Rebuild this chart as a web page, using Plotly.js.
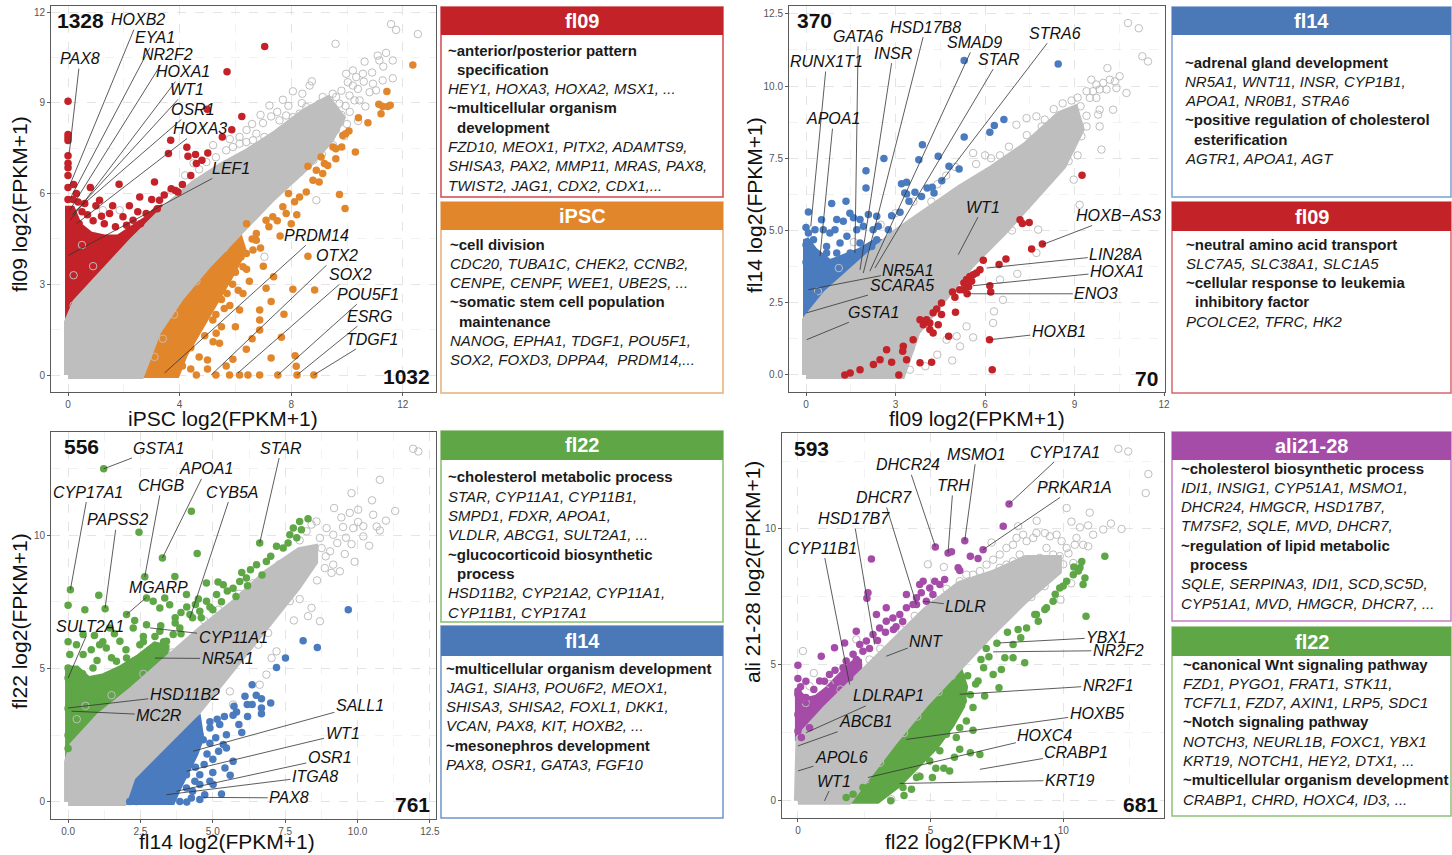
<!DOCTYPE html>
<html><head><meta charset="utf-8">
<script src="https://cdn.plot.ly/plotly-3.0.1.min.js"></script>
<style>html,body{margin:0;padding:0;background:#fff}#chart{width:1452px;height:855px}</style>
</head><body><div id="chart"></div>
<script>
// ================= DATA =================
// Panel 1: x = iPSC, y = fl09
const p1GrayCore = [[0,0],[0,1.75],[0.3,2.4],[1.1,3.2],[2.3,4.4],[3.5,5.5],[4.5,6.3],[5.5,6.9],[6.5,7.4],[7.5,8.0],[8.5,8.7],[9.3,9.1],[9.8,8.5],[9.4,7.8],[8.6,6.95],[7.3,5.85],[6.1,4.75],[5.0,3.65],[4.0,2.55],[3.2,1.45],[2.6,0]];
const p1RedDense = [[0,1.7],[0,5.5],[0.15,5.5],[0.4,4.95],[0.8,4.65],[1.3,4.55],[1.8,4.55],[2.3,4.85],[2.8,5.15],[3.2,5.5],[3.4,5.55],[2.3,4.35],[1.1,3.15],[0.3,2.35]];
const p1OrangeDense = [[2.65,0],[3.9,0],[4.2,0.7],[4.8,1.7],[5.4,2.6],[5.9,3.4],[6.3,4.1],[6.1,4.7],[5.0,3.6],[4.0,2.5],[3.2,1.4]];
const p1GrayOpen = [[11.58,11.6],[11.76,11.41],[12.54,11.27],[9.59,10.95],[11.1,10.56],[11.4,10.65],[11.64,10.4],[11.16,10.4],[10.63,10.36],[11.64,9.81],[11.28,9.74],[10.93,9.63],[11.04,9.41],[10.81,9.35],[10.66,8.88],[10.21,10.07],[10.33,9.85],[10.57,9.96],[9.97,9.96],[10.03,9.68],[10.21,9.57],[10.39,9.46],[10.09,9.24],[10.27,9.08],[10.45,9.08],[9.49,9.3],[9.61,9.19],[9.37,9.08],[9.73,8.97],[9.55,8.75],[9.31,8.86],[9.13,9.19],[9.01,8.97],[8.74,9.71],[8.66,9.57],[8.06,9.38],[8.38,8.99],[8.54,8.86],[8.3,8.64],[8.06,8.53],[7.82,8.58],[7.58,8.42],[7.28,8.55],[7.22,8.91],[6.99,8.33],[7.04,7.87],[6.75,7.98],[6.63,7.76],[6.39,7.7],[6.15,7.65],[5.91,7.54],[5.67,7.43],[6.15,7.87],[8.9,5.78],[7.04,3.91],[4.96,7.04],[1.25,5.45],[1.85,5.45],[9.8,8.6],[9.95,8.9],[9.2,8.5],[8.9,8.3],[9.6,8.1],[9.75,8.35],[10.1,8.7],[8.7,8.0],[9.0,8.0],[8.2,7.6],[5.3,7.2],[4.7,6.8],[4.2,6.6],[3.7,6.1],[7.9,8.9],[7.5,8.7],[6.9,8.6],[6.4,8.1],[5.8,7.8],[10.0,8.3],[9.9,7.9],[9.5,7.6],[9.1,7.3],[8.8,7.1],[8.3,6.7],[7.8,6.3],[7.3,6.0],[6.7,5.3],[6.2,4.9],[5.6,4.2],[5.1,3.9],[4.6,3.1],[4.2,2.8],[3.8,2.0],[3.4,1.2],[3.1,0.6],[0.2,2.3],[0.2,3.3],[0.5,4.3],[0.9,3.6],[10.6,9.7],[10.9,10.0],[11.3,10.2],[9.8,9.4],[8.4,9.3],[7.7,9.1],[6.6,8.3],[5.2,7.6],[4.5,7.0],[10.4,8.4]];
const p1Red = [[0,9.05],[0,7.95],[0,7.85],[0,7.75],[0,7.25],[0,7.0],[0,6.85],[0.2,6.3],[0,6.2],[0.8,6.2],[0.18,5.8],[0.36,5.72],[0.6,5.67],[7.05,10.86],[5.7,10.03],[4.99,8.79],[6.23,8.55],[5.87,8.11],[5.53,7.87],[3.68,7.76],[4.26,7.53],[5.01,7.34],[3.6,7.32],[4.3,7.23],[4.57,7.29],[4.6,6.99],[3.1,6.38],[1.83,6.31],[3.7,6.16],[3.85,6.1],[2.57,5.89],[1.13,5.78],[1.49,5.34],[1.97,5.23],[2.33,5.12],[2.8,5.34],[3.28,5.78],[3.94,6.05],[1.0,5.6],[0.5,5.4],[0.9,5.1],[1.3,5.0],[1.7,4.9],[2.1,4.95],[2.6,5.0],[3.2,5.5],[0.4,5.0],[4.1,6.3],[4.4,6.6],[2.2,5.6],[1.6,5.6],[0.3,6.0],[0,5.8],[0,6.6],[4.8,7.1],[3.45,5.95],[0.7,5.3],[1.2,5.25],[2.5,5.4],[3.0,5.8]];
const p1Orange = [[12.36,10.25],[11.43,9.37],[11.14,8.95],[11.28,8.88],[11.46,8.88],[11.55,8.92],[11.22,8.64],[10.41,8.51],[10.75,8.34],[10.07,8.07],[9.95,7.98],[9.85,7.92],[9.81,7.54],[10.3,7.37],[9.5,7.54],[9.6,7.48],[9.07,7.21],[9.19,6.99],[9.31,6.93],[8.9,6.77],[9.13,6.66],[8.78,6.44],[9.0,6.38],[8.54,6.05],[8.3,5.89],[8.12,5.73],[9.73,5.97],[9.93,5.51],[7.7,5.56],[7.82,5.34],[7.34,5.23],[7.1,5.12],[6.75,4.68],[6.75,4.46],[6.63,4.13],[8.6,3.93],[6.39,4.02],[6.27,3.58],[7.37,3.25],[8.06,2.84],[8.84,2.81],[7.1,2.87],[7.28,2.43],[7.74,2.01],[6.87,2.15],[6.27,2.7],[6.15,2.15],[7.65,1.25],[6.87,1.82],[6.87,1.49],[7.28,0.56],[8.14,0.64],[8.18,0.29],[7.52,0],[8.21,0],[8.81,0],[6.87,0],[6.45,0],[6.15,0],[5.79,0],[5.67,0.3],[5.91,0.52],[6.39,0.85],[5.31,1.38],[5.43,1.05],[5.19,1.82],[4.96,2.26],[5.5,2.5],[5.9,3.0],[6.0,3.4],[7.0,3.6],[7.6,4.6],[8.0,5.0],[8.2,5.3],[5.3,0.0],[5.0,0.2],[6.6,1.2],[6.0,1.6],[5.8,2.3],[6.5,3.1],[7.9,6.0],[8.6,6.9],[9.6,7.15],[6.4,5.0],[4.4,0.2],[4.7,0.6],[4.9,1.3],[5.2,1.1],[5.5,1.6],[4.6,0.0],[5.0,0.5],[5.6,2.2],[6.1,2.8],[6.4,3.5],[6.9,4.2],[4.4,0.9],[4.1,0.3],[5.3,2.0],[5.7,2.7],[6.2,3.9],[6.6,4.5],[7.2,4.9],[7.5,5.1]];
const p1LabNames = ['PAX8','HOXB2','EYA1','NR2F2','HOXA1','WT1','OSR1','HOXA3','LEF1','PRDM14','OTX2','SOX2','POU5F1','ESRG','TDGF1'];
const p1LabX = [0.43,2.51,3.12,3.55,4.12,4.27,4.48,4.73,5.84,8.92,9.64,10.14,10.75,10.82,10.9];
const p1LabY = [10.46,11.75,11.15,10.59,10.03,9.44,8.78,8.15,6.83,4.62,3.96,3.33,2.67,1.95,1.19];
const p1PtX = [0.04,0.06,0.08,0.06,0.08,0.15,0.24,0.3,0.0,3.46,5.13,6.09,7.52,8.21,8.81];
const p1PtY = [7.3,6.27,5.84,5.45,5.12,5.29,5.4,5.0,3.95,0.07,0,0.07,0,0,0];

// Panel 2: x = fl09, y = fl14
const p2GrayCore = [[0,0],[0,1.9],[0.7,2.8],[1.8,3.85],[2.92,4.85],[4.04,5.65],[5.16,6.45],[6.27,7.15],[7.39,7.95],[8.5,9.0],[9.0,9.2],[9.2,8.5],[8.6,7.25],[7.6,6.1],[6.6,4.95],[5.5,3.8],[4.6,2.65],[3.7,1.5],[3.2,0]];
const p2BlueDense = [[0,1.9],[0,4.7],[0.3,4.3],[0.8,3.9],[1.3,4.1],[1.8,4.3],[2.3,4.6],[2.6,4.6],[1.8,3.85],[0.7,2.8]];
const p2GrayOpen = [[10.79,12.18],[11.15,12.0],[11.27,11.03],[11.46,10.85],[10.1,10.62],[9.56,10.22],[9.73,10.05],[9.96,10.11],[10.18,10.22],[10.35,10.16],[10.4,9.93],[10.07,9.88],[9.84,9.88],[9.62,9.82],[9.4,9.82],[9.51,9.59],[9.73,9.59],[10.51,10.34],[10.74,9.76],[10.29,9.18],[9.84,9.18],[9.84,8.6],[9.23,8.26],[9.9,7.8],[9.79,9.01],[9.4,8.97],[8.97,6.76],[9.17,5.89],[7.78,5.03],[7.72,4.22],[7.08,3.5],[6.5,3.3],[6.27,1.8],[5.38,1.68],[5.16,0.99],[4.71,1.22],[5.05,1.34],[3.48,0.18],[5.6,7.68],[7.05,8.66],[7.39,8.89],[7.72,8.95],[8.0,8.84],[8.3,9.2],[8.6,9.4],[8.9,9.5],[9.1,9.6],[9.2,9.3],[9.0,9.0],[8.8,8.7],[8.6,8.3],[8.3,8.0],[9.4,8.6],[8.9,7.9],[8.5,7.5],[8.8,7.4],[6.8,7.9],[6.5,7.6],[6.0,7.6],[5.0,7.2],[4.4,6.6],[4.2,6.0],[3.0,5.6],[7.9,6.5],[8.2,6.9],[6.9,5.0],[7.2,6.1],[5.8,4.2],[6.3,2.2],[4.9,0.5],[4.0,0.3],[4.4,0.7],[5.6,1.3],[6.6,2.6],[5.7,7.3],[6.2,7.5],[4.7,6.9],[3.6,6.0],[2.5,5.2],[1.6,4.6],[7.4,8.3],[7.9,8.6],[8.2,8.4],[8.9,8.2],[9.1,7.6],[8.3,7.3],[7.9,6.9],[7.5,6.6],[7.1,5.6],[6.5,5.3],[6.1,4.6],[5.6,4.4],[5.2,3.4],[4.8,3.1],[4.3,2.7],[3.9,2.3],[3.5,0.9],[1.1,3.7],[0.4,2.9]];
const p2Blue = [[5.3,10.88],[8.45,10.76],[6.63,8.84],[6.31,8.63],[6.16,8.4],[5.3,8.24],[3.9,7.97],[2.61,7.49],[3.78,7.45],[4.43,7.57],[4.79,7.22],[5.13,7.13],[4.55,6.72],[2.01,7.07],[2.01,6.47],[1.34,6.01],[0.86,5.93],[0.08,5.64],[3.2,6.62],[3.37,6.67],[3.31,6.3],[3.37,6.26],[3.65,6.32],[3.87,6.18],[4.06,6.47],[4.23,6.5],[4.29,6.3],[3.45,6.01],[3.15,5.63],[2.76,5.03],[2.87,5.51],[2.37,5.49],[2.09,5.55],[1.81,5.38],[1.59,5.44],[1.47,5.6],[1.25,5.32],[1.03,5.38],[0.8,4.91],[0.52,5.37],[0.58,5.03],[0.3,5.03],[0.08,4.91],[0.25,4.68],[0.69,4.45],[1.14,4.57],[1.37,4.8],[0.97,5.03],[0.08,4.22],[0.14,3.76],[0.08,3.3],[0.14,2.95],[0.25,2.72],[0.3,4.0],[0.69,4.22],[1.03,4.22],[1.48,4.22],[1.81,4.57],[2.2,4.45],[2.37,4.68],[1.7,5.03],[1.92,5.15],[2.42,5.15],[2.25,5.03],[0.0,5.1],[0.0,4.5],[0.0,3.9],[0.45,3.6],[0.9,3.9]];
const p2Red = [[9.25,6.91],[7.17,5.37],[7.25,5.24],[7.48,5.28],[7.92,4.53],[7.56,4.36],[6.7,4.01],[6.47,3.82],[5.94,3.97],[5.83,3.64],[5.71,3.53],[5.6,3.47],[5.49,3.41],[5.38,3.3],[5.29,3.18],[5.55,3.24],[5.27,2.95],[5.45,3.05],[6.16,3.09],[6.19,2.87],[5.4,2.81],[5.15,2.95],[4.91,2.87],[4.99,2.69],[4.54,2.49],[4.38,2.28],[5.01,2.17],[4.54,2.09],[4.26,2.15],[4.04,1.91],[4.15,1.8],[3.82,1.91],[3.93,1.74],[4.43,1.74],[4.15,1.57],[4.26,1.45],[4.78,1.34],[6.15,1.22],[3.59,1.22],[3.26,0.99],[3.24,0.82],[3.37,0.53],[2.87,0.44],[3.82,0.42],[4.21,0.44],[3.11,0],[6.24,0.18],[2.7,0.87],[2.48,0.53],[2.26,0.36],[1.81,0.18],[1.48,0.07],[1.3,0.0]];
const p2LabNames = ['RUNX1T1','GATA6','HSD17B8','INSR','SMAD9','STAR','STRA6','APOA1','WT1','HOXB\u2212AS3','LIN28A','HOXA1','ENO3','HOXB1','NR5A1','SCARA5','GSTA1'];
const p2LabX = [0.69,1.75,4.01,2.92,5.66,6.47,8.34,0.92,5.94,10.46,10.38,10.42,9.73,8.47,3.43,3.2,2.25];
const p2LabY = [10.85,11.72,12.04,11.14,11.51,10.93,11.83,8.87,5.81,5.52,4.16,3.59,2.81,1.49,3.62,3.1,2.17];
const p2PtX = [0.16,1.64,1.92,1.81,2.14,2.31,4.54,0.47,5.1,7.92,6.05,5.6,5.44,6.16,0.08,0.02,0.02];
const p2PtY = [5.14,4.22,3.53,3.64,3.59,3.7,6.7,4.11,4.16,4.51,3.7,3.09,2.81,1.22,2.95,2.15,1.22];

// Panel 3: x = fl14, y = fl22
const p3GrayCore = [[0,0],[0,1.5],[0.17,2.1],[1.1,3.2],[2.25,4.2],[3.4,5.3],[4.55,6.4],[5.7,7.4],[6.85,8.55],[8.0,9.4],[8.5,9.5],[8.5,9.0],[7.9,8.05],[6.8,6.55],[5.65,5.05],[4.5,3.45],[3.35,2.2],[2.2,0.95],[1.9,0]];
const p3GreenDense = [[0,1.5],[0,5.0],[0.3,5.0],[0.7,4.6],[1.2,4.7],[1.8,5.0],[2.4,5.4],[3.0,5.9],[3.4,5.8],[3.4,5.3],[2.25,4.2],[1.1,3.2],[0.17,2.1]];
const p3BlueDense = [[2.0,0],[3.6,0],[3.8,0.5],[4.1,1.1],[4.4,1.8],[4.6,2.4],[4.5,3.1],[3.35,2.1],[2.2,0.85]];
const p3GrayOpen = [[11.92,13.23],[12.1,13.13],[10.77,12.07],[9.79,11.57],[9.19,11.01],[10.02,10.95],[9.73,10.83],[9.44,10.66],[10.54,10.76],[10.98,10.54],[10.66,10.32],[10.77,10.17],[10.02,10.49],[10.2,10.33],[9.85,10.26],[10.2,9.95],[9.79,9.66],[9.56,9.29],[9.16,10.01],[8.93,10.26],[8.7,9.89],[8.58,10.51],[8.24,10.14],[8.41,10.39],[8.76,9.51],[9.05,9.39],[9.16,8.89],[8.87,8.76],[9.39,8.64],[9.1,8.58],[8.41,7.27],[8.29,6.96],[8.7,6.77],[7.66,7.52],[7.66,8.14],[7.49,7.77],[6.97,7.02],[6.91,6.33],[7.2,5.64],[7.03,5.39],[6.85,4.77],[6.62,4.39],[5.59,4.14],[5.7,3.65],[6.57,5.89],[7.8,8.6],[8.1,9.0],[8.3,9.3],[7.4,8.5],[7.0,8.3],[6.6,7.8],[6.2,7.0],[5.8,6.2],[4.8,4.8],[9.9,9.0],[9.6,9.9],[9.3,9.7],[8.9,9.2],[8.6,8.3],[8.0,7.6],[7.8,6.8],[4.0,5.8],[3.6,5.6],[2.6,4.8],[1.5,4.0],[0.3,3.1],[0.6,3.6],[7.3,8.9],[6.4,8.2],[5.9,7.8],[5.2,7.2],[4.7,6.8],[8.2,8.6],[7.3,7.3],[6.6,6.5],[6.1,5.8],[5.3,5.0],[4.9,4.2],[4.2,3.6],[3.8,2.9],[3.0,2.1],[2.5,1.4],[10.5,11.3],[11.3,10.9],[9.5,10.3],[10.4,9.6],[8.0,9.8]];
const p3Green = [[1.23,12.48],[4.26,10.89],[2.45,10.1],[4.46,9.31],[3.26,9.14],[2.65,8.44],[3.69,8.45],[0.08,7.95],[0,7.37],[0.58,7.2],[1.06,7.74],[1.28,7.24],[2.02,7.02],[0.91,6.24],[0.06,5.52],[0,5.02],[0,4.64],[0.29,5.89],[0.52,5.52],[0.86,5.02],[1.32,5.77],[1.79,6.02],[2.25,6.52],[2.71,6.64],[3.17,6.39],[3.63,6.27],[3.86,6.52],[4.21,7.02],[4.55,7.14],[4.78,7.52],[5.13,7.77],[5.36,8.14],[5.7,8.01],[5.93,8.26],[6.16,8.39],[6.51,8.89],[6.62,9.7],[6.85,9.01],[7.2,9.58],[7.43,9.51],[7.66,10.01],[7.78,10.26],[8.06,10.2],[8.29,10.61],[8.0,10.51],[4.78,8.2],[5.18,8.24],[3.34,7.64],[3.51,7.39],[3.17,7.27],[2.71,7.64],[2.94,7.52],[4.09,7.77],[1.44,6.52],[1.09,5.89],[1.67,5.27],[2.02,5.39],[2.48,5.89],[2.94,5.77],[3.4,6.02],[0.52,6.27],[0.75,4.02],[1.09,4.27],[1.44,4.64],[1.79,4.52],[0.4,3.4],[0.23,2.77],[6.0,8.6],[6.3,8.7],[5.5,7.9],[4.9,7.3],[7.0,9.2],[7.6,9.7],[7.9,9.9],[3.9,7.1],[4.4,7.4],[2.6,6.0],[3.0,6.2],[0.0,6.0],[0.0,3.5],[0.0,2.5],[0.0,2.0],[1.0,5.3],[1.5,5.4],[2.0,5.7],[2.6,6.2],[3.2,6.6],[3.7,6.9],[4.1,7.3],[4.5,7.6],[0.8,5.7],[1.2,6.0],[1.6,6.3],[2.3,6.8],[3.7,6.7],[4.3,6.9],[3.9,6.3],[4.6,6.9],[5.0,7.2],[5.3,7.5],[5.8,7.7],[6.2,8.1],[6.7,8.5],[0.5,4.8],[0.9,4.5],[1.9,4.9],[2.3,5.3],[2.8,5.6],[3.3,6.0],[0.3,4.3],[0.6,3.9]];
const p3Blue = [[9.68,7.2],[8.12,6.04],[8.61,5.79],[7.51,5.39],[7.2,5.04],[6.36,4.39],[6.11,3.96],[6.19,3.65],[6.36,3.65],[6.68,3.87],[6.68,3.52],[6.68,3.3],[7.0,3.71],[5.73,3.58],[5.82,3.37],[5.7,3.25],[5.24,2.9],[5.15,3.1],[4.9,2.77],[4.55,2.52],[4.67,2.33],[4.32,2.27],[5.47,2.52],[5.36,2.15],[5.47,2.02],[5.7,1.52],[5.42,1.27],[4.9,0.77],[5.01,0.65],[4.55,1.02],[4.09,1.02],[3.86,1.27],[3.63,0.77],[3.4,0.65],[3.05,0.52],[2.82,0.4],[2.59,0.27],[2.48,0.15],[2.13,0.02],[2.36,0.02],[4.72,0.27],[4.55,0.09],[4.26,0.15],[3.86,0.02],[3.46,0.52],[3.17,0.27],[4.09,0.52],[4.38,0.77],[4.55,0.65],[5.2,1.9],[5.0,1.6],[4.9,2.2],[5.9,2.9],[6.0,2.6],[4.0,1.6],[3.7,1.3],[4.7,1.4],[5.0,1.1],[4.8,1.8],[5.1,2.4],[4.9,3.0],[5.4,3.2],[4.3,0.4],[4.1,0.0],[4.4,1.3],[5.3,0.3],[5.6,1.0],[6.2,3.2],[6.5,4.0]];
const p3LabNames = ['GSTA1','STAR','APOA1','CHGB','CYB5A','CYP17A1','PAPSS2','MGARP','SULT2A1','CYP11A1','NR5A1','HSD11B2','MC2R','SALL1','WT1','OSR1','ITGA8','PAX8'];
const p3LabX = [3.11,7.37,4.78,3.23,5.65,0.69,1.69,3.11,0.77,5.7,5.51,4.03,3.15,10.08,9.48,9.04,8.53,7.64];
const p3LabY = [13.26,13.26,12.48,11.86,11.61,11.61,10.57,8.04,6.58,6.17,5.37,4.02,3.25,3.62,2.55,1.65,0.96,0.15];
const p3PtX = [1.23,6.62,3.26,2.65,4.21,0.08,1.28,2.02,0,2.82,3.0,0.0,0.12,4.32,4.09,3.74,3.4,4.67];
const p3PtY = [12.48,9.7,9.14,8.44,6.89,7.95,7.27,7.02,4.64,6.52,5.39,3.52,3.4,1.9,1.15,0.4,0.27,0.17];

// Panel 4: x = fl22, y = ali21-28
const p4GrayCore = [[0,0],[0,2.2],[0.06,2.3],[1.07,3.38],[2.33,4.6],[3.58,5.8],[4.84,7.0],[6.1,7.95],[7.36,8.35],[8.6,8.9],[9.8,8.9],[9.8,8.45],[8.55,7.4],[7.3,6.2],[6.05,4.95],[4.8,3.6],[3.55,2.12],[2.3,0.55],[1.9,0]];
const p4PurpleDense = [[0,2.2],[0,4.0],[0.3,3.7],[0.7,3.8],[1.1,4.1],[1.5,4.5],[2.0,5.0],[2.3,5.2],[2.33,4.6],[1.07,3.38],[0.06,2.3]];
const p4GreenDense = [[2.0,0],[3.0,0],[3.8,0.6],[4.5,1.3],[5.2,2.0],[5.8,2.8],[6.2,3.5],[6.3,4.2],[6.05,4.95],[4.8,3.6],[3.55,2.12],[2.3,0.55]];
const p4GrayOpen = [[12.08,12.95],[12.45,12.85],[13.21,12.02],[13.11,11.32],[9.43,11.57],[10.13,10.77],[10.31,10.27],[10.63,10.06],[10.94,10.13],[11.51,9.98],[11.13,9.79],[10.94,9.36],[10.75,9.42],[10.5,9.67],[10.44,9.42],[10.13,9.3],[9.94,9.55],[9.75,9.79],[9.5,9.73],[9.31,9.85],[8.99,9.85],[8.87,9.67],[8.62,9.55],[8.49,9.79],[8.24,9.67],[8.11,9.42],[7.86,9.3],[7.61,9.06],[7.36,8.87],[7.11,8.69],[6.86,8.45],[6.6,8.32],[9.37,9.3],[9.62,9.06],[9.87,9.0],[9.12,8.94],[8.87,8.81],[8.36,9.06],[8.11,8.81],[7.86,8.69],[7.61,8.57],[10.63,8.69],[10.38,8.75],[6.1,8.08],[6.35,8.32],[0.19,5.51],[0.44,4.22],[2.2,5.94],[4.53,0.92],[3.52,0.06],[10.2,9.1],[10.0,8.7],[9.4,8.4],[9.0,8.2],[8.6,8.0],[8.2,7.7],[7.8,7.2],[7.4,7.0],[10.3,8.0],[9.9,7.4],[6.3,7.2],[5.9,7.6],[5.5,8.6],[4.9,8.7],[0.6,4.7],[0.3,3.6],[1.2,4.3],[5.6,7.8],[5.2,7.4],[4.4,6.8],[3.9,6.3],[3.1,5.6],[2.7,5.2],[1.6,4.1],[9.3,7.9],[8.8,7.5],[8.0,6.9],[7.6,6.5],[7.0,5.9],[6.5,5.4],[5.8,4.6],[5.3,4.0],[4.5,3.1],[4.0,2.5],[3.1,1.4],[2.6,0.8],[11.0,10.6],[11.8,10.2],[12.2,10.0],[9.0,10.3],[8.3,10.1],[7.3,9.5]];
const p4Purple = [[7.96,10.92],[7.74,10.1],[6.29,9.57],[5.18,9.34],[5.66,9.12],[5.79,9.16],[6.98,9.24],[6.5,9.0],[6.79,8.91],[6.04,8.57],[6.1,8.47],[2.77,8.9],[5.53,8.14],[5.35,7.96],[5.16,8.08],[4.97,7.83],[4.72,8.08],[4.65,7.65],[5.09,7.59],[4.84,7.34],[4.47,7.47],[4.34,7.22],[4.09,7.1],[3.84,6.85],[3.58,6.73],[3.33,6.61],[3.08,6.36],[2.83,6.12],[2.58,5.88],[2.33,5.75],[2.08,5.39],[1.82,5.14],[1.7,4.9],[1.95,4.53],[1.57,4.41],[1.32,4.16],[1.07,3.92],[0.82,3.67],[0.57,3.55],[0.31,3.3],[0.13,3.18],[2.64,7.65],[2.6,7.45],[2.2,6.24],[1.76,5.81],[1.38,5.63],[0.88,5.32],[0,4.99],[0,4.04],[0,3.92],[0.06,3.67],[0,3.18],[0.19,2.94],[0.44,2.69],[0,2.57],[0.13,2.33],[0.82,4.41],[1.19,4.65],[2.96,6.85],[3.33,7.1],[4.09,7.59],[4.59,7.96],[4.47,7.22],[3.95,6.6],[3.7,6.4],[2.45,5.5],[0,4.5],[0.3,3.8],[2.7,5.6],[3.0,5.9],[3.3,6.2],[3.6,6.3],[2.2,5.2],[1.4,4.8],[1.0,4.4],[0.6,4.1],[0.3,4.4],[0.1,4.2]];
const p4Green = [[11.57,9.0],[10.86,6.79],[10.63,8.57],[10.82,8.2],[10.75,7.96],[10.57,8.45],[10.38,8.32],[10.13,8.08],[9.87,7.83],[9.62,7.34],[9.37,7.1],[8.99,6.85],[8.62,6.36],[8.11,5.75],[9.31,7.04],[9.06,6.61],[8.93,6.85],[8.55,5.08],[8.11,5.26],[7.8,5.26],[7.58,4.16],[7.67,4.83],[7.04,3.86],[6.79,4.41],[6.86,1.71],[6.5,1.77],[5.72,1.1],[5.07,0.86],[4.28,0.43],[3.96,0.49],[6.1,2.69],[5.97,2.33],[5.6,2.45],[5.35,2.82],[4.84,2.69],[4.59,2.45],[4.34,2.2],[3.96,1.84],[3.58,1.47],[3.33,1.22],[3.08,0.98],[2.83,0.73],[2.45,0.49],[2.08,0.24],[1.82,0.12],[4.47,0.86],[4.97,1.47],[5.35,1.84],[6.35,2.94],[6.6,3.43],[6.23,3.67],[7.36,4.65],[7.2,5.3],[7.0,4.9],[6.7,4.3],[8.4,6.0],[8.3,6.3],[9.7,7.6],[10.0,7.9],[10.4,8.6],[10.7,8.8],[5.5,1.2],[6.1,1.9],[3.2,0.3],[2.7,0.1],[6.5,3.9],[6.4,4.6],[6.9,5.2],[7.1,5.6],[7.5,5.8],[7.9,6.2],[6.6,2.6],[5.9,1.6],[5.2,1.2],[4.6,0.9],[4.0,0.2],[3.5,0.0],[4.2,1.3],[5.0,2.3],[5.6,3.2],[6.0,3.9]];
const p4LabNames = ['DHCR24','MSMO1','CYP17A1','TRH','PRKAR1A','DHCR7','HSD17B7','CYP11B1','LDLR','NNT','YBX1','NR2F2','NR2F1','HOXB5','HOXC4','CRABP1','KRT19','LDLRAP1','ABCB1','APOL6','WT1'];
const p4LabX = [4.15,6.73,10.06,5.85,10.44,3.23,2.1,0.94,6.33,4.84,11.64,12.08,11.7,11.26,9.31,10.5,10.25,3.4,2.55,1.64,1.35];
const p4LabY = [12.36,12.75,12.83,11.6,11.53,11.16,10.38,9.3,7.16,5.88,6.02,5.53,4.26,3.21,2.39,1.77,0.76,3.86,2.91,1.59,0.73];
const p4PtX = [5.18,6.29,7.96,5.66,6.98,4.47,2.89,1.95,4.72,3.33,7.61,7.36,6.1,4.09,2.64,6.86,3.84,0.31,0,0,1.0];
const p4PtY = [9.36,9.57,10.92,9.12,9.24,7.22,5.75,4.28,7.34,5.32,5.81,5.48,3.92,2.26,0.86,1.16,0.64,2.51,2.02,1.1,0];

// Counts, axis titles
const countsUp = [1328, 370, 556, 593];
const countsDown = [1032, 70, 761, 681];
const xTitles = ['iPSC log2(FPKM+1)','fl09 log2(FPKM+1)','fl14 log2(FPKM+1)','fl22 log2(FPKM+1)'];
const yTitles = ['fl09 log2(FPKM+1)','fl14 log2(FPKM+1)','fl22 log2(FPKM+1)','ali 21-28 log2(FPKM+1)'];

// Side boxes
const sideTitles = ['fl09','iPSC','fl14','fl09','fl22','fl14','ali21-28','fl22'];
const sideLines = [
 ['~anterior/posterior pattern','  specification','HEY1, HOXA3, HOXA2, MSX1, ...','~multicellular organism','  development','FZD10, MEOX1, PITX2, ADAMTS9,','SHISA3, PAX2, MMP11, MRAS, PAX8,','TWIST2, JAG1, CDX2, CDX1,...'],
 ['~cell division','CDC20, TUBA1C, CHEK2, CCNB2,','CENPE, CENPF, WEE1, UBE2S, ...','~somatic stem cell population','  maintenance','NANOG, EPHA1, TDGF1, POU5F1,','SOX2, FOXD3, DPPA4,  PRDM14,...'],
 ['~adrenal gland development','NR5A1, WNT11, INSR, CYP1B1,','APOA1, NR0B1, STRA6','~positive regulation of cholesterol','  esterification','AGTR1, APOA1, AGT'],
 ['~neutral amino acid transport','SLC7A5, SLC38A1, SLC1A5','~cellular response to leukemia','  inhibitory factor','PCOLCE2, TFRC, HK2'],
 ['~cholesterol metabolic process','STAR, CYP11A1, CYP11B1,','SMPD1, FDXR, APOA1,','VLDLR, ABCG1, SULT2A1, ...','~glucocorticoid biosynthetic','  process','HSD11B2, CYP21A2, CYP11A1,','CYP11B1, CYP17A1'],
 ['~multicellular organism development','JAG1, SIAH3, POU6F2, MEOX1,','SHISA3, SHISA2, FOXL1, DKK1,','VCAN, PAX8, KIT, HOXB2, ...','~mesonephros development','PAX8, OSR1, GATA3, FGF10'],
 ['~cholesterol biosynthetic process','IDI1, INSIG1, CYP51A1, MSMO1,','DHCR24, HMGCR, HSD17B7,','TM7SF2, SQLE, MVD, DHCR7,','~regulation of lipid metabolic','  process','SQLE, SERPINA3, IDI1, SCD,SC5D,','CYP51A1, MVD, HMGCR, DHCR7, ...'],
 ['~canonical Wnt signaling pathway','FZD1, PYGO1, FRAT1, STK11,','TCF7L1, FZD7, AXIN1, LRP5, SDC1','~Notch signaling pathway','NOTCH3, NEURL1B, FOXC1, YBX1','KRT19, NOTCH1, HEY2, DTX1, ...','~multicellular organism development','CRABP1, CHRD, HOXC4, ID3, ...']
];

// ================= STYLE / LAYOUT =================
const W = 1452, H = 855;
const FONT = 'Liberation Sans, Arial, Helvetica, sans-serif';
const GRAY = '#bebebe';
const C = {red:'#c42229', orange:'#e2862c', blue:'#4a7bbf', green:'#5ea646', purple:'#a54ca8'};
const fx = p => p / W, fy = p => 1 - p / H;

const panels = [
 {xa:'x', ya:'y', box:{l:51,r:436,t:6,b:392}, xr:[-0.61,13.19], yr:[-0.56,12.2], xd:4, yd:3, xf:'', yf:'',
  core:p1GrayCore, dense:[[p1RedDense,C.red],[p1OrangeDense,C.orange]], open:p1GrayOpen, pts:[[p1Red,C.red],[p1Orange,C.orange]],
  lab:[p1LabNames,p1LabX,p1LabY,p1PtX,p1PtY], up:[55,20], down:[432,377], xt:[223,418], yt:[20,204]},
 {xa:'x2', ya:'y2', box:{l:789,r:1165,t:6,b:392}, xr:[-0.57,12.03], yr:[-0.59,12.77], xd:3, yd:2.5, xf:'', yf:'.1f',
  core:p2GrayCore, dense:[[p2BlueDense,C.blue]], open:p2GrayOpen, pts:[[p2Blue,C.blue],[p2Red,C.red]],
  lab:[p2LabNames,p2LabX,p2LabY,p2PtX,p2PtY], up:[795,20], down:[1160,378], xt:[977,418], yt:[755,205]},
 {xa:'x3', ya:'y3', box:{l:51,r:436,t:432,b:819}, xr:[-0.59,12.71], yr:[-0.64,13.86], xd:2.5, yd:5, xf:'.1f', yf:'',
  core:p3GrayCore, dense:[[p3GreenDense,C.green],[p3BlueDense,C.blue]], open:p3GrayOpen, pts:[[p3Green,C.green],[p3Blue,C.blue]],
  lab:[p3LabNames,p3LabX,p3LabY,p3PtX,p3PtY], up:[62,446], down:[432,804], xt:[227,841], yt:[19,621]},
 {xa:'x4', ya:'y4', box:{l:782,r:1164,t:433,b:818}, xr:[-0.6,13.8], yr:[-0.63,13.53], xd:5, yd:5, xf:'', yf:'',
  core:p4GrayCore, dense:[[p4PurpleDense,C.purple],[p4GreenDense,C.green]], open:p4GrayOpen, pts:[[p4Purple,C.purple],[p4Green,C.green]],
  lab:[p4LabNames,p4LabX,p4LabY,p4PtX,p4PtY], up:[792,448], down:[1160,804], xt:[973,841], yt:[752,572]}
];

const boxes = [
 {l:441,r:723,t:7,hb:35,b:197,col:C.red,bd:'#d0484d',tx:446,ty:50},
 {l:441,r:723,t:202,hb:230,b:393,col:C.orange,bd:'#e9ae76',tx:448,ty:244},
 {l:1172,r:1451,t:7,hb:35,b:197,col:'#4b78b6',bd:'#7b9fd1',tx:1183,ty:62},
 {l:1172,r:1451,t:202,hb:231,b:393,col:C.red,bd:'#d46a6e',tx:1184,ty:244},
 {l:441,r:723,t:431,hb:460,b:622,col:C.green,bd:'#86bd70',tx:446,ty:477},
 {l:441,r:723,t:626,hb:656,b:818,col:'#4b78b6',bd:'#6f95cc',tx:444,ty:668},
 {l:1172,r:1451,t:432,hb:460,b:621,col:C.purple,bd:'#c27fc6',tx:1179,ty:468},
 {l:1172,r:1451,t:627,hb:656,b:816,col:C.green,bd:'#8cc27a',tx:1181,ty:664}
];
const LINE_H = 19.3;

const traces = [], annotations = [], shapes = [];
const layout = {width:W, height:H, margin:{l:0,r:0,t:0,b:0}, paper_bgcolor:'#fff', plot_bgcolor:'#fff', showlegend:false, font:{family:FONT}};

const unzip = a => [a.map(p => p[0]), a.map(p => p[1])];

panels.forEach((P, i) => {
  const sfx = i === 0 ? '' : String(i + 1);
  const axBase = {showline:true, mirror:true, linecolor:'#5a5a5a', linewidth:1, ticks:'outside', ticklen:3, tickcolor:'#5a5a5a',
    tickfont:{family:FONT, size:10, color:'#555'}, showgrid:true, gridcolor:'#d9d9d9', griddash:'dash', gridwidth:0.7,
    zeroline:false, fixedrange:true, tickmode:'linear', tick0:0};
  layout['xaxis' + sfx] = Object.assign({}, axBase, {domain:[fx(P.box.l), fx(P.box.r)], range:P.xr, dtick:P.xd, tickformat:P.xf, anchor:P.ya,
    minor:{tick0:0, dtick:P.xd/2, showgrid:true, gridcolor:'#e9e9e9', griddash:'dash', gridwidth:0.6}});
  layout['yaxis' + sfx] = Object.assign({}, axBase, {domain:[fy(P.box.b), fy(P.box.t)], range:P.yr, dtick:P.yd, tickformat:P.yf, anchor:P.xa,
    minor:{tick0:0, dtick:P.yd/2, showgrid:true, gridcolor:'#e9e9e9', griddash:'dash', gridwidth:0.6}});

  // dense clouds drawn as filled outlines with a thick edge (about one dot radius)
  const poly = (arr, color, lw) => { const [x, y] = unzip(arr); return {type:'scatter', mode:'lines', x:x.concat([x[0]]), y:y.concat([y[0]]),
    fill:'toself', fillcolor:color, line:{color:color, width:lw, shape:'linear'}, xaxis:P.xa, yaxis:P.ya, hoverinfo:'skip'}; };
  P.dense.forEach(d => traces.push(poly(d[0], d[1], 6)));
  traces.push(poly(P.core, GRAY, 8));
  const [ox, oy] = unzip(P.open);
  traces.push({type:'scatter', mode:'markers', x:ox, y:oy, xaxis:P.xa, yaxis:P.ya, hoverinfo:'skip',
    marker:{symbol:'circle-open', size:7.5, color:GRAY, line:{width:1, color:GRAY}}});
  P.pts.forEach(d => { const [x, y] = unzip(d[0]); traces.push({type:'scatter', mode:'markers', x:x, y:y, xaxis:P.xa, yaxis:P.ya, hoverinfo:'skip',
    marker:{symbol:'circle', size:7.5, color:d[1], line:{width:0}}}); });

  const [names, lx, ly, hx, hy] = P.lab;
  names.forEach((n, k) => {
    annotations.push({xref:P.xa, yref:P.ya, axref:P.xa, ayref:P.ya, x:hx[k], y:hy[k], ax:lx[k], ay:ly[k],
      text:'<i>' + n + '</i>', showarrow:true, arrowhead:0, arrowwidth:0.8, arrowcolor:'#333', standoff:0, startstandoff:0,
      font:{family:FONT, size:16, color:'#111'}});
  });
  annotations.push({xref:'paper', yref:'paper', x:fx(P.up[0]), y:fy(P.up[1]), xanchor:'left', yanchor:'middle', showarrow:false,
    text:'<b>' + countsUp[i] + '</b>', font:{family:FONT, size:21, color:'#111'}});
  annotations.push({xref:'paper', yref:'paper', x:fx(P.down[0]), y:fy(P.down[1]), xanchor:'right', yanchor:'middle', showarrow:false,
    text:'<b>' + countsDown[i] + '</b>', font:{family:FONT, size:21, color:'#111'}});
  annotations.push({xref:'paper', yref:'paper', x:fx(P.xt[0]), y:fy(P.xt[1]), xanchor:'center', yanchor:'middle', showarrow:false,
    text:xTitles[i], font:{family:FONT, size:21, color:'#111'}});
  annotations.push({xref:'paper', yref:'paper', x:fx(P.yt[0]), y:fy(P.yt[1]), xanchor:'center', yanchor:'middle', showarrow:false,
    textangle:-90, text:yTitles[i], font:{family:FONT, size:21, color:'#111'}});
});

boxes.forEach((B, i) => {
  shapes.push({type:'rect', xref:'paper', yref:'paper', x0:fx(B.l), x1:fx(B.r), y0:fy(B.b), y1:fy(B.t), fillcolor:'#fff', line:{color:B.bd, width:1.5}});
  shapes.push({type:'rect', xref:'paper', yref:'paper', x0:fx(B.l), x1:fx(B.r), y0:fy(B.hb), y1:fy(B.t), fillcolor:B.col, line:{width:0}});
  annotations.push({xref:'paper', yref:'paper', x:fx((B.l + B.r) / 2), y:fy((B.t + B.hb) / 2), xanchor:'center', yanchor:'middle', showarrow:false,
    text:'<b>' + sideTitles[i] + '</b>', font:{family:FONT, size:20, color:'#fff'}});
  sideLines[i].forEach((s, k) => {
    const indent = s.startsWith(' ');
    const bold = indent || s.startsWith('~');
    const t = s.trim();
    annotations.push({xref:'paper', yref:'paper', x:fx(B.tx + (indent ? 9 : 0)), y:fy(B.ty + k * LINE_H), xanchor:'left', yanchor:'middle', showarrow:false,
      text: bold ? '<b>' + t + '</b>' : '<i>' + t + '</i>', font:{family:FONT, size:15, color:'#1a1a1a'}});
  });
});

layout.annotations = annotations;
layout.shapes = shapes;
Plotly.newPlot('chart', traces, layout, {staticPlot:true, displayModeBar:false});
</script></body></html>
